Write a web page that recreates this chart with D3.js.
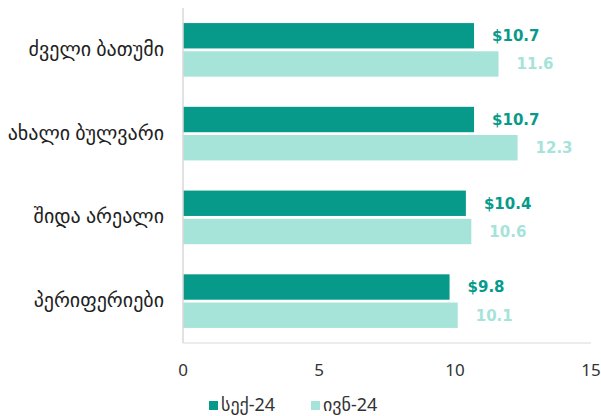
<!DOCTYPE html>
<html>
<head>
<meta charset="utf-8">
<script src="https://cdn.jsdelivr.net/npm/d3@7"></script>
<style>
  body { margin: 0; background: #fff; }
  text { font-family: "Noto Sans", "DejaVu Sans", sans-serif; }
</style>
</head>
<body>
<div id="chart"></div>
<script>
// chart data
var categories = ["ძველი ბათუმი", "ახალი ბულვარი", "შიდა არეალი", "პერიფერიები"];
var seriesNames = ["სექ-24", "ივნ-24"];
var sep24 = [10.7, 10.7, 10.4, 9.8];
var jun24 = [11.6, 12.3, 10.6, 10.1];
var xTicks = [0, 5, 10, 15];

var colors = ["#079a8b", "#a6e3d9"];

var svgWidth = 601, svgHeight = 416;
var margin = { top: 8, right: 10, bottom: 73, left: 183 };

var svg = d3.select("#chart").append("svg")
    .attr("width", svgWidth)
    .attr("height", svgHeight);

var x = d3.scaleLinear()
    .domain([0, 15])
    .range([margin.left, 591]);

var y = d3.scaleBand()
    .domain(categories)
    .range([margin.top, svgHeight - margin.bottom])
    .paddingInner(0.36)
    .paddingOuter(0.18);

var inner = d3.scaleBand()
    .domain(seriesNames)
    .range([0, y.bandwidth()])
    .paddingInner(0.1);

var rows = categories.map((c, i) => ({ cat: c, vals: [sep24[i], jun24[i]] }));

// axis lines
var bottomY = svgHeight - margin.bottom;
svg.append("line")
    .attr("x1", x(0)).attr("x2", x(15))
    .attr("y1", bottomY).attr("y2", bottomY)
    .attr("stroke", "#d9d9d9").attr("stroke-width", 1);

// bars
var groups = svg.selectAll(".row")
    .data(rows)
    .enter()
    .append("g")
    .attr("transform", d => `translate(0, ${y(d.cat)})`);

groups.selectAll("rect")
    .data(d => d.vals.map((v, i) => ({ v: v, s: seriesNames[i], i: i })))
    .enter()
    .append("rect")
    .attr("x", x(0))
    .attr("y", d => inner(d.s))
    .attr("width", d => x(d.v) - x(0))
    .attr("height", inner.bandwidth())
    .attr("fill", d => colors[d.i]);

groups.selectAll(".val")
    .data(d => d.vals.map((v, i) => ({ v: v, s: seriesNames[i], i: i })))
    .enter()
    .append("text")
    .attr("x", d => x(d.v) + 18)
    .attr("y", d => inner(d.s) + inner.bandwidth() / 2)
    .attr("dy", "0.36em")
    .attr("font-size", 15)
    .attr("font-weight", "bold")
    .style("font-family", "'DejaVu Sans', sans-serif")
    .attr("fill", d => colors[d.i])
    .text(d => d.i === 0 ? "$" + d.v.toFixed(1) : d.v.toFixed(1));

// category labels
groups.append("text")
    .attr("x", 164)
    .attr("y", y.bandwidth() / 2)
    .attr("dy", "0.3em")
    .attr("text-anchor", "end")
    .attr("font-size", 20)
    .attr("fill", "#222")
    .text(d => d.cat);

// vertical axis line
svg.append("line")
    .attr("x1", x(0)).attr("x2", x(0))
    .attr("y1", margin.top).attr("y2", bottomY)
    .attr("stroke", "#d9d9d9").attr("stroke-width", 1.5);

// x tick labels
svg.selectAll(".tick")
    .data(xTicks)
    .enter()
    .append("text")
    .attr("x", d => x(d))
    .attr("y", 376)
    .attr("text-anchor", "middle")
    .attr("font-size", 17)
    .attr("fill", "#333")
    .text(d => d);

// legend
var legend = svg.selectAll(".legend")
    .data(seriesNames)
    .enter()
    .append("g")
    .attr("transform", (d, i) => `translate(${209 + i * 102}, 401)`);

legend.append("rect")
    .attr("width", 9).attr("height", 9)
    .attr("fill", (d, i) => colors[i]);

legend.append("text")
    .attr("x", 12)
    .attr("y", 10)
    .attr("font-size", 18)
    .attr("fill", "#333")
    .text(d => d);
</script>
</body>
</html>
